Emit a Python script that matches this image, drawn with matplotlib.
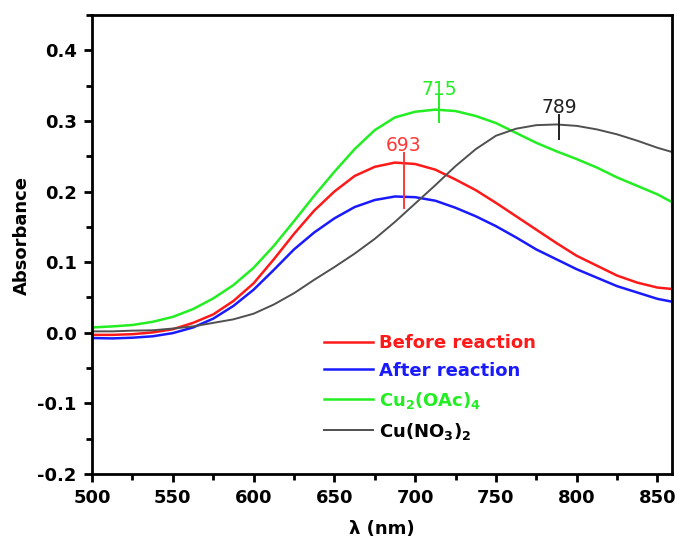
import matplotlib
matplotlib.use("Agg")
import matplotlib.pyplot as plt
from matplotlib.ticker import MultipleLocator

# wavelengths (nm) and absorbance
wl = [500, 512.5, 525, 537.5, 550, 562.5, 575, 587.5, 600, 612.5, 625, 637.5, 650, 662.5, 675,
      687.5, 700, 712.5, 725, 737.5, 750, 762.5, 775, 787.5, 800, 812.5, 825, 837.5, 850, 859]

before = [-0.003, -0.003, -0.002, 0.0005, 0.005, 0.014, 0.026, 0.045, 0.070, 0.104, 0.140, 0.173,
          0.200, 0.222, 0.235, 0.241, 0.239, 0.231, 0.217, 0.202, 0.184, 0.165, 0.146, 0.127,
          0.109, 0.095, 0.081, 0.071, 0.064, 0.062]
after = [-0.0075, -0.008, -0.007, -0.005, -0.0005, 0.0075, 0.020, 0.038, 0.061, 0.089, 0.118,
         0.142, 0.162, 0.178, 0.188, 0.193, 0.192, 0.187, 0.177, 0.165, 0.151, 0.135, 0.118,
         0.104, 0.090, 0.078, 0.066, 0.057, 0.048, 0.044]
cu_oac = [0.0075, 0.009, 0.011, 0.0155, 0.0225, 0.0335, 0.0486, 0.0675, 0.092, 0.123, 0.158,
          0.194, 0.228, 0.260, 0.287, 0.305, 0.313, 0.316, 0.314, 0.307, 0.297, 0.283, 0.269,
          0.257, 0.246, 0.234, 0.220, 0.208, 0.196, 0.185]
cu_no3 = [0.002, 0.002, 0.003, 0.0035, 0.006, 0.009, 0.014, 0.019, 0.027, 0.040, 0.056, 0.075,
          0.093, 0.112, 0.133, 0.157, 0.183, 0.209, 0.236, 0.260, 0.279, 0.289, 0.294, 0.295,
          0.293, 0.288, 0.281, 0.272, 0.262, 0.256]

labels = ["Before reaction", "After reaction", "Cu$_2$(OAc)$_4$", "Cu(NO$_3$)$_2$"]
colors = ["#ff1a1a", "#1a1aff", "#22ee22", "#505050"]
text_colors = ["#ff1a1a", "#1a1aff", "#22ee22", "#000000"]

# peak marks: position, line bottom/top, label
peaks = [(693, 0.176, 0.255, "693", "#ff3838"),
         (715, 0.298, 0.335, "715", "#22ee22"),
         (789, 0.274, 0.309, "789", "#202020")]

plt.rcParams['font.family'] = ['DejaVu Sans']
plt.rcParams['mathtext.fontset'] = 'dejavusans'
plt.rcParams['mathtext.default'] = 'bf'
plt.rcParams['axes.unicode_minus'] = False

fig = plt.figure(figsize=(6.77, 5.42), dpi=100)
ax = fig.add_axes([0.136, 0.1255, 0.8566, 0.8468])

series = [before, after, cu_oac, cu_no3]
for ys, lab, c in zip(series, labels, colors):
    lw = 1.4 if c == "#505050" else 1.8
    ax.plot(wl, ys, color=c, lw=lw, label=lab)

for x, y0, y1, txt, c in peaks:
    ax.plot([x, x], [y0, y1], color=c, lw=1.4)
    ax.text(x, y1 + 0.002, txt, color=c, fontsize=13.5, ha='center', va='baseline')

ax.set_xlim(500, 859)
ax.set_ylim(-0.2, 0.45)
ax.xaxis.set_major_locator(MultipleLocator(50))
ax.xaxis.set_minor_locator(MultipleLocator(25))
ax.yaxis.set_major_locator(MultipleLocator(0.1))
ax.yaxis.set_minor_locator(MultipleLocator(0.05))
ax.tick_params(which='major', length=6, width=2, labelsize=13, direction='out', pad=5)
ax.tick_params(which='minor', length=4, width=2, direction='out')
for lab in ax.get_xticklabels() + ax.get_yticklabels():
    lab.set_fontweight('bold')
for s in ax.spines.values():
    s.set_linewidth(2)

ax.set_xlabel("λ (nm)", fontsize=13, fontweight='bold', labelpad=9)
ax.set_ylabel("Absorbance", fontsize=13, fontweight='bold')
ax.yaxis.set_label_coords(-0.105, 0.52)

leg = ax.legend(loc='upper left', bbox_to_anchor=(0.385, 0.325), frameon=False,
                prop={'size': 13, 'weight': 'bold'}, handlelength=2.7,
                handletextpad=0.3, labelspacing=0.55, borderpad=0)
for t, c in zip(leg.get_texts(), text_colors):
    t.set_color(c)

fig.savefig("out.png", dpi=100)
